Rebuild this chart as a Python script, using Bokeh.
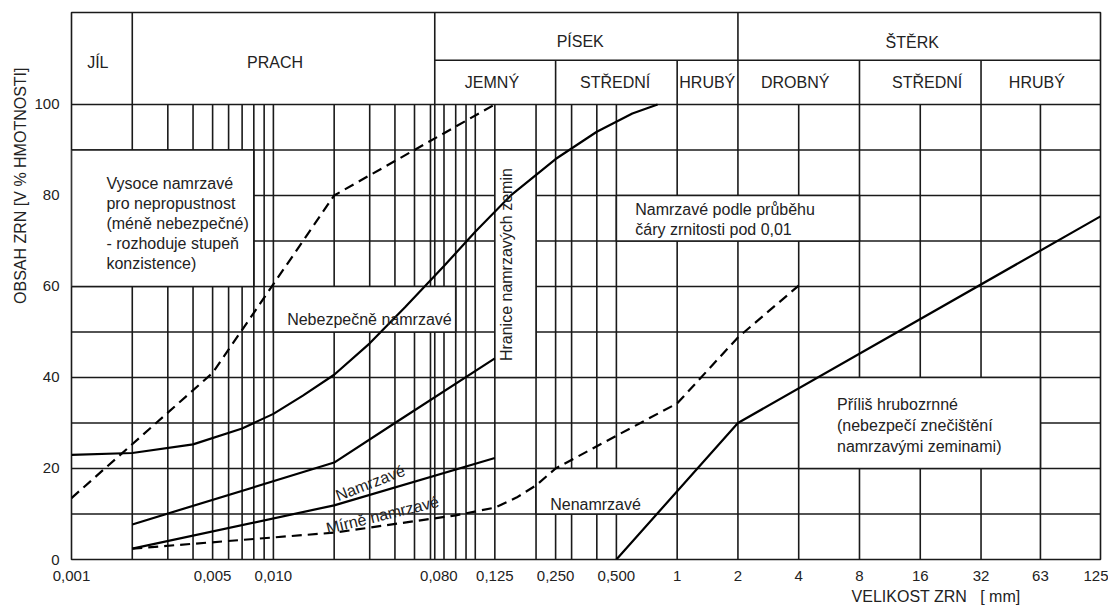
import math
from bokeh.plotting import figure
from bokeh.models import Range1d, FixedTicker, Title
from bokeh.core.properties import value
from bokeh.embed import file_html
from bokeh.resources import INLINE

FONT = "Liberation Sans"
INK = "#1a1a1a"
TXT = "#222222"

# ---------------- data ----------------
x_ticks = [0.001, 0.005, 0.01, 0.066, 0.125, 0.25, 0.5, 1, 2, 4, 8, 16, 32, 63, 125]
x_tick_labels = ["0,001", "0,005", "0,010", "0,080", "0,125", "0,250", "0,500",
                 "1", "2", "4", "8", "16", "32", "63", "125"]
y_ticks = [0, 20, 40, 60, 80, 100]

# grain-size grid (mm) and percentage grid
grid_sizes = [0.002, 0.003, 0.004, 0.005, 0.006, 0.007, 0.008, 0.009, 0.01,
              0.02, 0.03, 0.04, 0.05, 0.06, 0.063, 0.07, 0.08, 0.09, 0.1, 0.125,
              0.2, 0.25, 0.3, 0.4, 0.5, 1, 2, 4, 8, 16, 32, 63]
grid_pcts = [10, 20, 30, 40, 50, 60, 70, 80, 90, 100]

# boundary curves (grain size mm, % passing)
upper_dashed_d = [0.001, 0.005, 0.02, 0.125]
upper_dashed_p = [13.5, 41, 80, 100]

dangerous_d = [0.001, 0.002, 0.004, 0.007, 0.01, 0.014, 0.02, 0.03, 0.045, 0.07,
               0.1, 0.15, 0.25, 0.4, 0.6, 0.8]
dangerous_p = [23, 23.4, 25.3, 28.8, 32, 36, 40.6, 47.5, 55.5, 64.5,
               72, 80, 88, 94, 98, 100]

frost_d = [0.002, 0.02, 0.04, 0.125]
frost_p = [7.7, 21.3, 30, 44.2]

slight_d = [0.002, 0.02, 0.125]
slight_p = [2.4, 11.9, 22.3]

lower_dashed_d = [0.002, 0.02, 0.08, 0.125, 0.16, 0.2, 0.25, 0.5, 1, 2, 4]
lower_dashed_p = [2.4, 5.9, 9.7, 11.4, 13.6, 16.3, 20, 27.2, 34.3, 48.8, 60.2]

coarse_d = [0.5, 2, 125]
coarse_p = [0, 30, 75.4]

# soil classes in the header
class_top = ["JÍL", "PRACH", "PÍSEK", "ŠTĚRK"]
class_sub = ["JEMNÝ", "STŘEDNÍ", "HRUBÝ", "DROBNÝ", "STŘEDNÍ", "HRUBÝ"]

# ---------------- figure ----------------
Y_TOP = 120.2
p = figure(width=1108, height=606, x_axis_type="log",
           x_range=Range1d(0.001, 125), y_range=Range1d(0, Y_TOP),
           output_backend="svg", toolbar_location=None,
           min_border_left=71, min_border_right=8, min_border_top=12, min_border_bottom=47)
p.background_fill_color = "white"
p.border_fill_color = "white"
p.outline_line_color = INK
p.outline_line_width = 1.6
p.xgrid.visible = False
p.ygrid.visible = False

for ax in (p.xaxis[0], p.yaxis[0]):
    ax.axis_line_color = None
    ax.major_tick_line_color = None
    ax.minor_tick_line_color = None
    ax.major_label_text_font = FONT
    ax.major_label_text_font_size = "15px"
    ax.major_label_text_color = TXT
    ax.major_label_standoff = 6
p.xaxis.major_label_standoff = 5

p.xaxis.ticker = FixedTicker(ticks=x_ticks)
p.xaxis.major_label_overrides = {t: l for t, l in zip(x_ticks, x_tick_labels)}
p.yaxis.ticker = FixedTicker(ticks=y_ticks)

# ---------------- grid ----------------
GW = 1.6
p.segment(x0=grid_sizes, x1=grid_sizes, y0=[0] * len(grid_sizes), y1=[100] * len(grid_sizes),
          line_color=INK, line_width=GW)
p.segment(x0=[0.001] * len(grid_pcts), x1=[125] * len(grid_pcts), y0=grid_pcts, y1=grid_pcts,
          line_color=INK, line_width=GW)

# header dividers
SUB = 109.7
hx = [0.002, 0.063, 2, 0.25, 1, 8, 32]
hy1 = [Y_TOP, Y_TOP, Y_TOP, SUB, SUB, SUB, SUB]
p.segment(x0=hx, x1=hx, y0=[100] * len(hx), y1=hy1, line_color=INK, line_width=GW)
p.segment(x0=[0.063], x1=[125], y0=[SUB], y1=[SUB], line_color=INK, line_width=GW)

# white label boxes interrupting the grid
box_l = [0.001, 0.01, 0.125, 0.5, 0.2, 4]
box_r = [0.008, 0.08, 0.2, 8, 1, 63]
box_b = [60, 50, 40, 70, 10, 20]
box_t = [90, 60, 90, 80, 20, 40]
p.quad(left=box_l, right=box_r, bottom=box_b, top=box_t,
       fill_color="white", line_color=INK, line_width=GW)

# ---------------- curves ----------------
CW = 2.2
p.line(upper_dashed_d, upper_dashed_p, line_color="black", line_width=CW, line_dash="10 6")
p.line(dangerous_d, dangerous_p, line_color="black", line_width=CW)
p.line(frost_d, frost_p, line_color="black", line_width=CW)
p.line(slight_d, slight_p, line_color="black", line_width=CW)
p.line(lower_dashed_d, lower_dashed_p, line_color="black", line_width=CW, line_dash="10 6")
p.line(coarse_d, coarse_p, line_color="black", line_width=CW)

# ---------------- texts ----------------
tf = value(FONT)
# header
p.text(x=[0.00135, 0.0102, 0.331, 14.6], y=[109.2, 109.2, 113.8, 113.6], text=class_top,
       text_font=tf, text_font_size="16px", text_align="center", text_baseline="middle",
       text_color=TXT)
p.text(x=[0.121, 0.493, 1.41, 3.84, 17.3, 60.5], y=[104.8] * 6, text=class_sub,
       text_font=tf, text_font_size="16px", text_align="center", text_baseline="middle",
       text_color=TXT)

# zone descriptions
left_lines = ["Vysoce namrzavé", "pro nepropustnost", "(méně nebezpečné)",
              "- rozhoduje stupeň", "konzistence)",
              "Nebezpečně namrzavé",
              "Namrzavé podle průběhu", "čáry zrnitosti pod 0,01",
              "Nenamrzavé",
              "Příliš hrubozrnné", "(nebezpečí znečištění", "namrzavými zeminami)"]
left_x = [0.00149] * 5 + [0.0117] + [0.62, 0.62] + [0.235] + [6.19] * 3
left_y = [82.6, 78.2, 73.8, 69.5, 65.1, 52.7, 76.9, 72.5, 12.1, 34.1, 29.5, 24.8]
p.text(x=left_x, y=left_y, text=left_lines, text_font=tf, text_font_size="16px",
       text_align="left", text_baseline="middle", text_color=TXT)

p.text(x=[0.0302], y=[16.8], text=["Namrzavé"], angle=0.37, text_font=tf,
       text_font_size="16px", text_align="center", text_baseline="middle", text_color=TXT)
p.text(x=[0.0347], y=[9.8], text=["Mírně namrzavé"], angle=0.24, text_font=tf,
       text_font_size="16px", text_align="center", text_baseline="middle", text_color=TXT)
p.text(x=[0.1423], y=[64.8], text=["Hranice namrzavých zemin"], angle=math.pi / 2, text_font=tf,
       text_font_size="16px", text_align="center", text_baseline="middle", text_color=TXT)

# axis titles
p.add_layout(Title(text="OBSAH ZRN [V % HMOTNOSTI]", align="right", offset=55, standoff=6,
                   text_font=FONT, text_font_size="16px", text_font_style="normal",
                   text_color=TXT), "left")
p.add_layout(Title(text="VELIKOST ZRN \u00a0 [ mm]", align="right", offset=80, standoff=4,
                   text_font=FONT, text_font_size="16px", text_font_style="normal",
                   text_color=TXT), "below")

open("out.html", "w").write(file_html(p, INLINE))
